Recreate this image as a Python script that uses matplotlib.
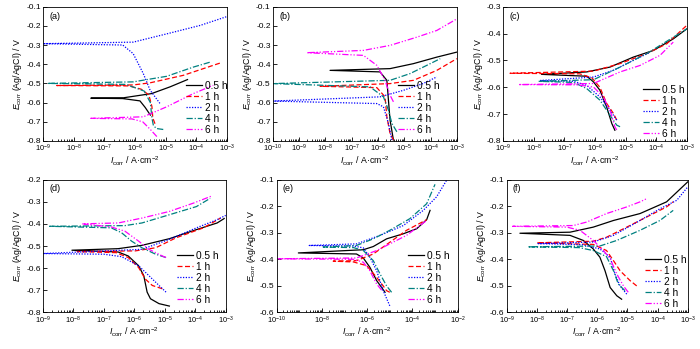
import numpy as np
import matplotlib
matplotlib.use("Agg")
import matplotlib.pyplot as plt
from matplotlib.ticker import LogLocator, MultipleLocator, FormatStrFormatter, NullFormatter

plt.rcParams['font.family'] = ['Liberation Sans', 'DejaVu Sans']
plt.rcParams['mathtext.fontset'] = 'custom'
plt.rcParams['mathtext.rm'] = 'Liberation Sans'
plt.rcParams['mathtext.it'] = 'Liberation Sans:italic'
plt.rcParams['mathtext.bf'] = 'Liberation Sans:bold'
plt.rcParams['axes.unicode_minus'] = False

# immersion times
times = ['0.5 h', '1 h', '2 h', '4 h', '6 h']

# polarization curves as (log10 I, E) pairs:
# cathodic end -> corrosion potential tip -> anodic end
# (a)
a_05 = [(-5.5, -0.665), (-5.67, -0.625), (-5.84, -0.591), (-6.4, -0.579), (-7.44, -0.577),
        (-6.38, -0.575), (-5.46, -0.553), (-4.86, -0.518), (-4.29, -0.48)]
a_1 = [(-5.35, -0.71), (-5.42, -0.68), (-5.45, -0.62), (-5.55, -0.56), (-5.8, -0.53), (-6.2, -0.513),
       (-8.55, -0.511), (-6.06, -0.508), (-5.51, -0.497), (-4.43, -0.458), (-3.23, -0.394)]
a_2 = [(-5.19, -0.604), (-5.51, -0.535), (-5.73, -0.449), (-6.06, -0.345), (-6.4, -0.3), (-9.0, -0.293),
       (-6.06, -0.285), (-4.97, -0.242), (-3.88, -0.198), (-3.01, -0.152)]
a_4 = [(-5.08, -0.74), (-5.3, -0.735), (-5.4, -0.72), (-5.45, -0.68), (-5.5, -0.6), (-5.7, -0.54),
       (-6.3, -0.505), (-8.85, -0.5), (-6.06, -0.492), (-4.97, -0.463), (-4.1, -0.415), (-3.55, -0.389)]
a_6 = [(-5.29, -0.777), (-5.5, -0.74), (-5.75, -0.7), (-6.1, -0.685), (-7.44, -0.682),
       (-5.73, -0.674), (-4.97, -0.622), (-4.1, -0.553), (-3.45, -0.51)]

# (b)
b_05 = [(-5.41, -0.795), (-5.54, -0.69), (-5.6, -0.587), (-5.66, -0.484), (-5.92, -0.44), (-7.82, -0.432),
        (-5.54, -0.423), (-4.65, -0.397), (-3.76, -0.363), (-3.0, -0.337)]
b_1 = [(-5.41, -0.795), (-5.54, -0.76), (-5.66, -0.674), (-5.73, -0.57), (-6.04, -0.522), (-8.2, -0.515),
       (-5.54, -0.501), (-4.65, -0.484), (-3.76, -0.432), (-3.0, -0.371)]
b_2 = [(-5.47, -0.795), (-5.6, -0.708), (-5.79, -0.622), (-6.04, -0.605), (-10.0, -0.592),
       (-5.92, -0.57), (-5.03, -0.536), (-4.27, -0.5), (-3.76, -0.466)]
b_4 = [(-5.28, -0.752), (-5.47, -0.708), (-5.6, -0.639), (-5.79, -0.57), (-6.3, -0.518), (-10.0, -0.501),
       (-5.54, -0.484), (-4.78, -0.449), (-4.01, -0.397), (-3.63, -0.371)]
b_6 = [(-5.41, -0.596), (-5.54, -0.561), (-5.73, -0.484), (-6.04, -0.406), (-6.55, -0.354), (-8.7, -0.34),
       (-6.55, -0.328), (-5.54, -0.302), (-4.52, -0.259), (-3.76, -0.224), (-3.0, -0.164)]

# (c)
c_05 = [(-5.35, -0.76), (-5.45, -0.735), (-5.62, -0.673), (-5.84, -0.611), (-6.05, -0.58), (-6.27, -0.559),
        (-7.75, -0.552), (-6.27, -0.543), (-5.51, -0.525), (-4.75, -0.488), (-4.09, -0.463),
        (-3.44, -0.42), (-3.0, -0.383)]
c_1 = [(-5.29, -0.722), (-5.4, -0.697), (-5.62, -0.66), (-5.84, -0.6), (-6.1, -0.565), (-6.5, -0.55),
       (-8.78, -0.548), (-6.05, -0.54), (-5.18, -0.512), (-4.31, -0.475), (-3.65, -0.438), (-3.0, -0.37)]
c_2 = [(-5.29, -0.722), (-5.51, -0.685), (-5.84, -0.636), (-6.27, -0.593), (-6.7, -0.578), (-7.8, -0.575),
       (-6.05, -0.562), (-5.4, -0.537), (-4.75, -0.5), (-4.2, -0.47)]
c_4 = [(-5.18, -0.747), (-5.29, -0.741), (-5.62, -0.685), (-5.84, -0.648), (-6.27, -0.605), (-6.7, -0.582),
       (-7.85, -0.578), (-6.05, -0.572), (-5.18, -0.525), (-4.31, -0.475), (-3.44, -0.414), (-3.0, -0.383)]
c_6 = [(-5.29, -0.759), (-5.35, -0.747), (-5.51, -0.685), (-5.73, -0.636), (-6.05, -0.599), (-6.6, -0.591),
       (-8.5, -0.59), (-6.05, -0.586), (-5.18, -0.543), (-4.53, -0.519), (-3.87, -0.481), (-3.44, -0.432)]

# (d)
d_05 = [(-4.85, -0.771), (-5.19, -0.76), (-5.47, -0.738), (-5.58, -0.708), (-5.69, -0.634), (-5.86, -0.589),
        (-6.2, -0.545), (-6.53, -0.527), (-8.05, -0.519), (-6.53, -0.512), (-5.75, -0.497),
        (-4.85, -0.467), (-3.96, -0.426), (-3.28, -0.396), (-3.05, -0.376)]
d_1 = [(-5.08, -0.693), (-5.41, -0.678), (-5.64, -0.649), (-5.86, -0.597), (-6.2, -0.552), (-6.6, -0.53),
       (-7.88, -0.525), (-5.97, -0.522), (-5.3, -0.508), (-4.63, -0.463), (-3.73, -0.418), (-3.17, -0.374)]
d_2 = [(-4.96, -0.708), (-5.19, -0.678), (-5.52, -0.634), (-5.86, -0.589), (-6.42, -0.548), (-7.0, -0.537),
       (-9.0, -0.534), (-5.75, -0.515), (-4.85, -0.47), (-3.96, -0.418), (-3.28, -0.381), (-3.0, -0.362)]
d_4 = [(-4.96, -0.552), (-5.3, -0.537), (-5.75, -0.508), (-6.09, -0.478), (-6.42, -0.44), (-6.76, -0.418),
       (-8.78, -0.411), (-6.31, -0.408), (-5.75, -0.396), (-4.85, -0.359), (-3.96, -0.322), (-3.51, -0.285)]
d_6 = [(-4.96, -0.552), (-5.08, -0.545), (-5.52, -0.515), (-5.86, -0.478), (-6.31, -0.433), (-6.76, -0.414),
       (-7.71, -0.4), (-6.53, -0.396), (-5.75, -0.374), (-4.85, -0.344), (-4.07, -0.307), (-3.45, -0.274)]

# (e)
e_05 = [(-5.21, -0.524), (-5.36, -0.506), (-5.58, -0.48), (-5.88, -0.43), (-6.17, -0.395), (-6.47, -0.38),
        (-9.04, -0.376), (-6.17, -0.364), (-5.73, -0.352), (-5.14, -0.323), (-4.4, -0.304),
        (-3.81, -0.285), (-3.37, -0.251), (-3.22, -0.216)]
e_1 = [(-5.0, -0.524), (-5.14, -0.518), (-5.29, -0.5), (-5.58, -0.468), (-6.02, -0.424), (-6.6, -0.41),
       (-7.5, -0.407), (-6.47, -0.405), (-5.73, -0.38), (-5.0, -0.336), (-4.26, -0.291), (-3.37, -0.251)]
e_2 = [(-5.0, -0.575), (-5.29, -0.518), (-5.58, -0.443), (-5.88, -0.392), (-6.17, -0.357), (-6.6, -0.35),
       (-8.56, -0.348), (-6.47, -0.342), (-5.43, -0.31), (-4.4, -0.273), (-3.52, -0.216),
       (-2.93, -0.165), (-2.49, -0.103)]
e_4 = [(-4.92, -0.524), (-5.14, -0.5), (-5.43, -0.455), (-5.73, -0.405), (-6.17, -0.367), (-6.6, -0.356),
       (-7.94, -0.354), (-6.47, -0.348), (-5.73, -0.323), (-5.0, -0.291), (-4.11, -0.247),
       (-3.37, -0.191), (-3.0, -0.118)]
e_6 = [(-5.36, -0.516), (-5.58, -0.493), (-5.88, -0.443), (-6.17, -0.411), (-6.6, -0.4), (-10.0, -0.398),
       (-6.47, -0.395), (-5.58, -0.367), (-5.0, -0.342), (-4.26, -0.31), (-3.37, -0.254)]

# (f)
f_05 = [(-5.19, -0.55), (-5.35, -0.537), (-5.57, -0.506), (-5.74, -0.443), (-5.91, -0.392), (-6.13, -0.361),
        (-6.46, -0.329), (-6.9, -0.31), (-8.56, -0.302), (-6.9, -0.298), (-6.13, -0.279),
        (-5.46, -0.254), (-4.58, -0.228), (-3.7, -0.184), (-3.0, -0.109)]
f_1 = [(-4.69, -0.5), (-4.91, -0.48), (-5.24, -0.443), (-5.46, -0.405), (-5.69, -0.367), (-6.13, -0.344),
       (-8.0, -0.338), (-6.13, -0.332), (-5.69, -0.317), (-5.02, -0.279), (-4.36, -0.241),
       (-3.7, -0.203), (-3.48, -0.184)]
f_2 = [(-5.02, -0.531), (-5.24, -0.5), (-5.41, -0.455), (-5.57, -0.392), (-5.91, -0.361), (-6.5, -0.345),
       (-7.96, -0.341), (-6.13, -0.335), (-5.46, -0.31), (-4.58, -0.254), (-3.92, -0.21),
       (-3.36, -0.178), (-3.0, -0.128)]
f_4 = [(-5.08, -0.518), (-5.3, -0.493), (-5.46, -0.443), (-5.69, -0.39), (-6.13, -0.367), (-6.6, -0.356),
       (-8.3, -0.353), (-5.91, -0.35), (-5.35, -0.329), (-4.58, -0.291), (-3.92, -0.254), (-3.48, -0.216)]
f_6 = [(-4.97, -0.524), (-5.13, -0.5), (-5.35, -0.455), (-5.57, -0.398), (-5.79, -0.367), (-6.13, -0.329),
       (-6.57, -0.291), (-7.0, -0.279), (-8.8, -0.276), (-6.79, -0.273), (-6.35, -0.26),
       (-5.69, -0.228), (-5.02, -0.203), (-4.58, -0.184), (-4.36, -0.172)]

panels = {
    'a': [a_05, a_1, a_2, a_4, a_6],
    'b': [b_05, b_1, b_2, b_4, b_6],
    'c': [c_05, c_1, c_2, c_4, c_6],
    'd': [d_05, d_1, d_2, d_4, d_6],
    'e': [e_05, e_1, e_2, e_4, e_6],
    'f': [f_05, f_1, f_2, f_4, f_6],
}

# axis limits: (x min, x max, y min, y max)
limits = {
    'a': (1e-9, 1e-3, -0.8, -0.1),
    'b': (1e-10, 1e-3, -0.8, -0.1),
    'c': (1e-9, 1e-3, -0.8, -0.3),
    'd': (1e-9, 1e-3, -0.8, -0.2),
    'e': (1e-10, 1e-2, -0.6, -0.1),
    'f': (1e-9, 1e-3, -0.6, -0.1),
}

# axes rectangles in figure fractions
rects = {
    'a': [0.0614, 0.596, 0.263, 0.385],
    'b': [0.3896, 0.596, 0.263, 0.385],
    'c': [0.7190, 0.596, 0.262, 0.385],
    'd': [0.0614, 0.1046, 0.261, 0.381],
    'e': [0.3952, 0.1046, 0.2586, 0.381],
    'f': [0.7238, 0.1046, 0.2586, 0.381],
}

# upper-left corner of each legend, axes fraction
legend_at = {
    'a': (0.777, 0.45),
    'b': (0.681, 0.45),
    'c': (0.762, 0.42),
    'd': (0.733, 0.466),
    'e': (0.725, 0.466),
    'f': (0.764, 0.436),
}

colors = ['black', '#ff0000', '#0000ff', '#008080', '#ff00ff']
styles = ['-', (0, (4, 2)), (0, (1, 1.2)), (0, (5, 1.5, 1, 1.5)), (0, (5, 1.5, 1, 1.5, 1, 1.5))]

fig = plt.figure(figsize=(7, 3.49), dpi=100)

for key, curves in panels.items():
    ax = fig.add_axes(rects[key])
    for pts, c, ls, lab in zip(curves, colors, styles, times):
        logi = np.array([p[0] for p in pts])
        pot = np.array([p[1] for p in pts])
        ax.plot(10 ** logi, pot, color=c, linestyle=ls, lw=0.9, label=lab)
    x0, x1, y0, y1 = limits[key]
    ax.set_xscale('log')
    ax.set_xlim(x0, x1)
    ax.set_ylim(y0, y1)
    if key == 'e':
        ax.xaxis.set_major_locator(LogLocator(base=100, numticks=20))
    else:
        ax.xaxis.set_major_locator(LogLocator(base=10, numticks=20))
    ax.xaxis.set_minor_locator(LogLocator(base=10, subs=np.arange(1, 10), numticks=40))
    ax.xaxis.set_minor_formatter(NullFormatter())
    ax.yaxis.set_major_locator(MultipleLocator(0.1))
    ax.yaxis.set_major_formatter(FormatStrFormatter('%.1f'))
    ax.tick_params(which='both', direction='in', width=0.6)
    ax.tick_params(axis='x', labelsize=5.3, pad=1.5)
    ax.tick_params(axis='y', labelsize=6, pad=1.5)
    ax.tick_params(which='major', length=3)
    ax.tick_params(which='minor', length=1.5)
    for sp in ax.spines.values():
        sp.set_linewidth(0.6)
    ax.set_xlabel(r'$I_{\rm corr}$ / A·cm$^{-2}$', fontsize=6.3, labelpad=0)
    ax.set_ylabel(r'$E_{\rm corr}$ (Ag/AgCl) / V', fontsize=6.3, labelpad=1.5)
    ax.text(0.035, 0.93, '(%s)' % key, transform=ax.transAxes, fontsize=6.5, va='center')
    ax.legend(loc='upper left', bbox_to_anchor=legend_at[key], frameon=False, fontsize=7.3,
              handlelength=1.6, handletextpad=0.3, labelspacing=0.1, borderpad=0,
              borderaxespad=0)

fig.savefig('out.png', dpi=100)
